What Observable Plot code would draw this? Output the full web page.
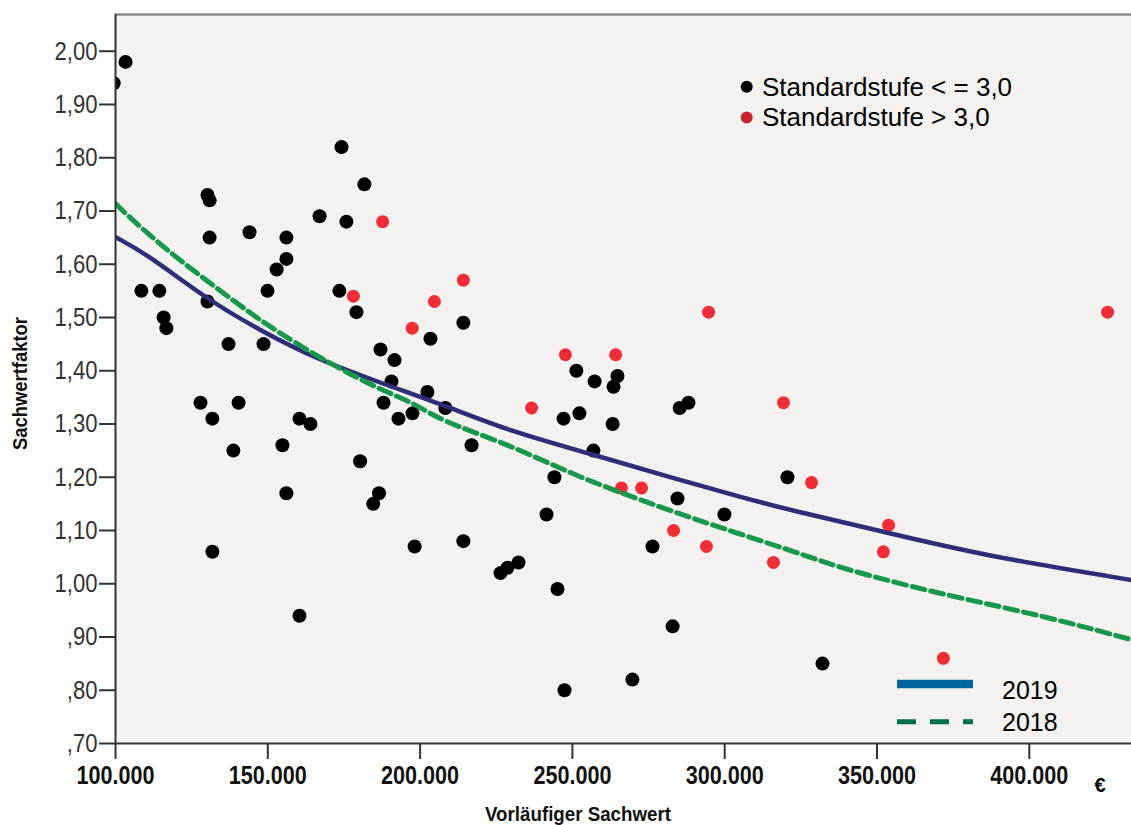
<!DOCTYPE html>
<html><head><meta charset="utf-8">
<script src="https://cdn.jsdelivr.net/npm/d3@7"></script>
<script src="https://cdn.jsdelivr.net/npm/@observablehq/plot@0.6"></script>
<style>
body{margin:0;background:#fff;}
#wrap{position:relative;width:1131px;height:825px;overflow:hidden;}
#wrap svg{display:block;}
#overlay{position:absolute;left:0;top:0;pointer-events:none;}
</style>
</head><body><div id="wrap"></div>
<script>
// Black dots: Standardstufe <= 3,0
const blackValue  = [103300, 99400, 108500, 114400, 115800, 116700, 130200, 137100, 148600, 149900, 173500, 179100, 187000, 188000, 127900, 140400, 131800, 160400, 164000, 138700, 154800, 180300, 156100, 186500, 184600, 131800, 174200, 181700, 130200, 130900, 167000, 175800, 130900, 144000, 156100, 156100, 152900, 203400, 214200, 191600, 190600, 192900, 197500, 202400, 208300, 216900, 198200, 214200, 226400, 228700, 232300, 251300, 257300, 264800, 263500, 247100, 252300, 263200, 256900, 244100, 241500, 284500, 288100, 285200, 299900, 276300, 320600, 245100, 282900, 269700, 247400, 160400, 332100];
const blackFactor = [1.98, 1.94, 1.55, 1.55, 1.50, 1.48, 1.53, 1.45, 1.45, 1.55, 1.55, 1.51, 1.44, 1.34, 1.34, 1.34, 1.31, 1.31, 1.30, 1.25, 1.26, 1.23, 1.17, 1.17, 1.15, 1.06, 1.82, 1.75, 1.73, 1.72, 1.69, 1.68, 1.65, 1.66, 1.65, 1.61, 1.59, 1.46, 1.49, 1.42, 1.38, 1.31, 1.32, 1.36, 1.33, 1.26, 1.07, 1.08, 1.02, 1.03, 1.04, 1.40, 1.38, 1.39, 1.37, 1.31, 1.32, 1.30, 1.25, 1.20, 1.13, 1.16, 1.34, 1.33, 1.13, 1.07, 1.20, 0.99, 0.92, 0.82, 0.80, 0.94, 0.85];
// Red dots: Standardstufe > 3,0
const redValue  = [178100, 187700, 197400, 204700, 214200, 236600, 247700, 264200, 266100, 272700, 283200, 294000, 294700, 316000, 319300, 328500, 352100, 353800, 371800, 425700];
const redFactor = [1.54, 1.68, 1.48, 1.53, 1.57, 1.33, 1.43, 1.43, 1.18, 1.18, 1.10, 1.07, 1.51, 1.04, 1.34, 1.19, 1.06, 1.11, 0.86, 1.51];
// Fit curve 2019 (solid)
const fit2019Value  = [100000, 110900, 129500, 149200, 165700, 187600, 209400, 228600, 255900, 283300, 305200, 321600, 351200, 384000, 433500];
const fit2019Factor = [1.651, 1.617, 1.536, 1.470, 1.423, 1.376, 1.332, 1.288, 1.244, 1.198, 1.163, 1.138, 1.099, 1.054, 1.007];
// Fit curve 2018 (dashed)
const fit2018Value  = [100000, 103300, 113100, 121900, 132800, 143800, 152500, 165700, 176600, 187600, 198500, 206700, 228600, 250500, 272400, 294300, 321600, 340200, 373000, 405900, 433500];
const fit2018Factor = [1.714, 1.695, 1.645, 1.604, 1.557, 1.510, 1.476, 1.429, 1.395, 1.363, 1.338, 1.306, 1.263, 1.204, 1.157, 1.113, 1.063, 1.025, 0.978, 0.938, 0.895];
// Axes
const xTicks = [100000, 150000, 200000, 250000, 300000, 350000, 400000];
const yTicks = [0.7, 0.8, 0.9, 1.0, 1.1, 1.2, 1.3, 1.4, 1.5, 1.6, 1.7, 1.8, 1.9, 2.0];
const xMin = 100000, xMax = 433550;
const yMin = 0.70, yMax = 2.069;
const legendPoints = ["Standardstufe < = 3,0", "Standardstufe > 3,0"];
const legendLines = ["2019", "2018"];
const xTitle = "Vorläufiger Sachwert";
const yTitle = "Sachwertfaktor";
const unit = "€";

const black = blackValue.map((v, i) => ({v, f: blackFactor[i]}));
const red = redValue.map((v, i) => ({v, f: redFactor[i]}));
const fit2019 = fit2019Value.map((v, i) => ({v, f: fit2019Factor[i]}));
const fit2018 = fit2018Value.map((v, i) => ({v, f: fit2018Factor[i]}));

const sans = "'Liberation Sans', Arial, sans-serif";
const fmtX = d => d3.format(",")(d).replace(/,/g, ".");
const fmtY = d => { const s = d.toFixed(2).replace(".", ","); return d < 1 ? s.slice(1) : s; };

const chart = Plot.plot({
  width: 1131, height: 825,
  marginLeft: 115, marginRight: 0, marginTop: 14, marginBottom: 82,
  style: {fontFamily: sans, background: "#fff", overflow: "visible"},
  x: {domain: [xMin, xMax]},
  y: {domain: [yMin, yMax]},
  marks: [
    Plot.frame({fill: "#f3f2f1", stroke: "none"}),
    Plot.dot(black, {x: "v", y: "f", r: 7, fill: "#000", clip: true}),
    Plot.dot(red, {x: "v", y: "f", r: 6.5, fill: "#ee2d36", clip: true}),
    Plot.line(fit2019, {x: "v", y: "f", stroke: "#2e2d78", strokeWidth: 4.5, curve: "basis", clip: true}),
    Plot.line(fit2018, {x: "v", y: "f", stroke: "#17984a", strokeWidth: 5, strokeDasharray: "13,6", curve: "basis", clip: true}),
    Plot.ruleY([yMax], {stroke: "#8c8c8c", strokeWidth: 2.5}),
    Plot.ruleX([xMin], {stroke: "#333", strokeWidth: 2}),
    Plot.ruleY([yMin], {stroke: "#333", strokeWidth: 2}),
    Plot.axisY(yTicks, {tickSize: 16, tickPadding: 2, tickFormat: fmtY, fontSize: 26, fill: "#333", stroke: "#333", strokeWidth: 2, label: null}),
    Plot.axisX(xTicks, {tickSize: 16, tickPadding: 6, tickFormat: fmtX, fontSize: 26, fontWeight: "bold", fill: "#111", stroke: "#333", strokeWidth: 2, label: null})
  ]
});
const wrap = document.getElementById("wrap");
wrap.appendChild(chart);

// Narrow the tick labels horizontally (the reference uses a condensed face)
function squeeze(sel, k) {
  chart.querySelectorAll(sel).forEach(t => {
    const w = t.getComputedTextLength();
    t.setAttribute("textLength", (w * k).toFixed(1));
    t.setAttribute("lengthAdjust", "spacingAndGlyphs");
  });
}
squeeze('g[aria-label="y-axis tick label"] text', 0.85);
squeeze('g[aria-label="x-axis tick label"] text', 0.83);

// Overlay: legends and axis titles
const ov = d3.select(wrap).append("svg").attr("id", "overlay").attr("width", 1131).attr("height", 825);
const legCol = ["#000", "#c1272d"];
legendPoints.forEach((t, i) => {
  const cy = 86.7 + i * 30.7;
  ov.append("circle").attr("cx", 746.7).attr("cy", cy).attr("r", 6).attr("fill", legCol[i]);
  ov.append("text").attr("x", 762).attr("y", cy + 9).attr("font-family", sans)
    .attr("font-size", 26).attr("fill", "#000").text(t);
});
const lineStyles = [{stroke: "#00669c", w: 8.5, dash: null}, {stroke: "#00704a", w: 5, dash: "19,14"}];
legendLines.forEach((t, i) => {
  const cy = [684, 721.7][i];
  const s = lineStyles[i];
  const l = ov.append("line").attr("x1", 897).attr("x2", 973).attr("y1", cy).attr("y2", cy)
    .attr("stroke", s.stroke).attr("stroke-width", s.w);
  if (s.dash) l.attr("stroke-dasharray", s.dash);
  ov.append("text").attr("x", 1002).attr("y", [699, 730.5][i]).attr("font-family", sans)
    .attr("font-size", 25).attr("fill", "#000").text(t);
});
ov.append("text").attr("x", 578).attr("y", 821).attr("text-anchor", "middle").attr("font-family", sans)
  .attr("font-weight", "bold").attr("font-size", 21).attr("fill", "#111")
  .attr("textLength", 186).attr("lengthAdjust", "spacingAndGlyphs").text(xTitle);
ov.append("text").attr("transform", "translate(26.5,383.5) rotate(-90)").attr("text-anchor", "middle").attr("font-family", sans)
  .attr("font-weight", "bold").attr("font-size", 21).attr("fill", "#111")
  .attr("textLength", 133).attr("lengthAdjust", "spacingAndGlyphs").text(yTitle);
ov.append("text").attr("x", 1100).attr("y", 792).attr("text-anchor", "middle").attr("font-family", sans)
  .attr("font-weight", "bold").attr("font-size", 20).attr("fill", "#000").text(unit);
</script>
</body></html>
